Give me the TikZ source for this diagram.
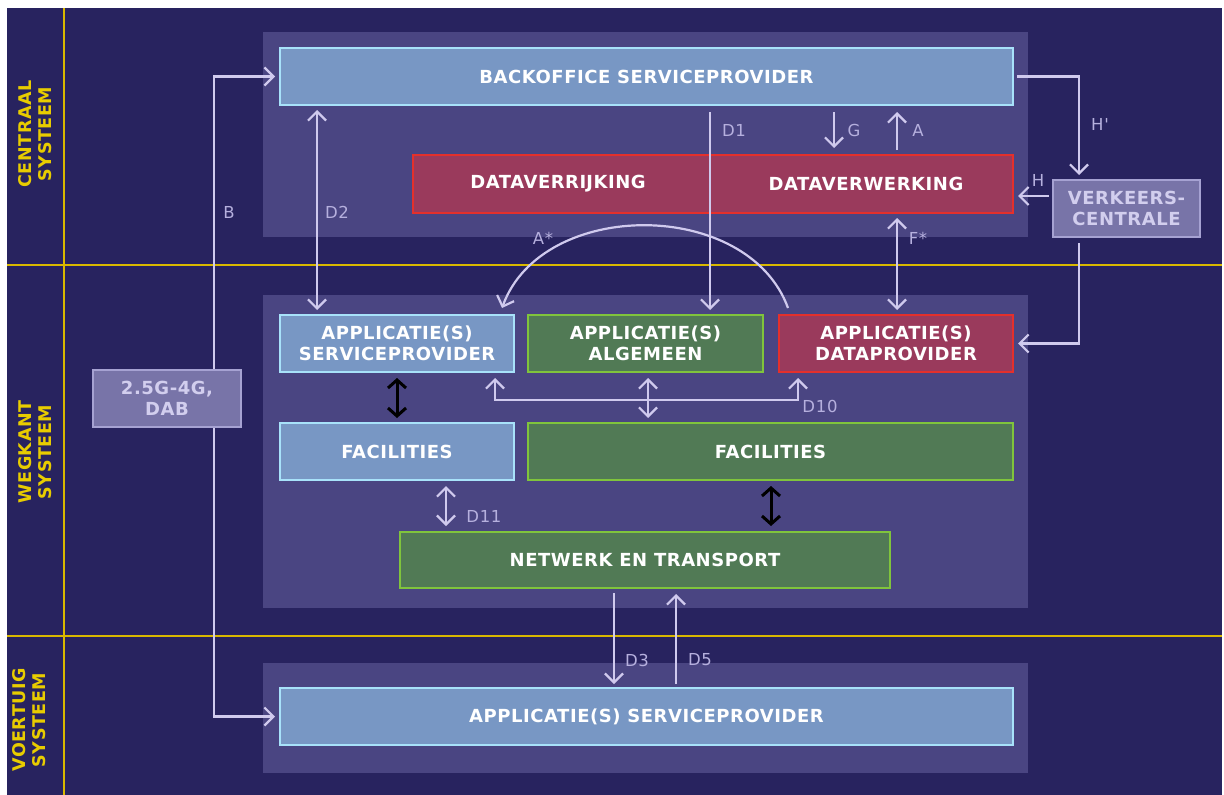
\documentclass[tikz,border=0pt]{standalone}
\usepackage{fontspec}
\setmainfont{DejaVu Sans}
\newfontfamily\boxfont{DejaVu Sans}[LetterSpace=3]
\newfontfamily\lblfont{DejaVu Sans}[LetterSpace=4]
\usetikzlibrary{arrows.meta}
\definecolor{bg}{HTML}{28235F}
\definecolor{panelc}{HTML}{4A4582}
\definecolor{yel}{HTML}{D9B800}
\definecolor{bfill}{HTML}{7897C4}
\definecolor{bline}{HTML}{A8E2FA}
\definecolor{rfill}{HTML}{9A3A5C}
\definecolor{rline}{HTML}{E4302C}
\definecolor{gfill}{HTML}{517A55}
\definecolor{gline}{HTML}{80C43C}
\definecolor{grfill}{HTML}{7874A8}
\definecolor{grline}{HTML}{A6A2D2}
\definecolor{grtext}{HTML}{D2CEEE}
\definecolor{lavline}{HTML}{D0CAEE}
\definecolor{lbltext}{HTML}{B6B0DE}
\definecolor{sidetext}{HTML}{E8CC00}
\begin{document}
\begin{tikzpicture}[x=1pt,y=-1pt,
  >={Straight Barb[length=9pt,width=18pt]},
  box/.style={rectangle, inner sep=0pt, outer sep=0pt, line width=1.8pt, align=center,
    text=white, font=\boxfont\bfseries\fontsize{18}{21}\selectfont},
  bluebox/.style={box, fill=bfill, draw=bline},
  redbox/.style={box, fill=rfill, draw=rline},
  greenbox/.style={box, fill=gfill, draw=gline},
  greybox/.style={box, fill=grfill, draw=grline, text=grtext},
  boxtext/.style={inner sep=0pt, text=white, font=\boxfont\bfseries\fontsize{18}{21}\selectfont},
  panel/.style={fill=panelc},
  lav/.style={draw=lavline, line width=2.2pt},
  blk/.style={draw=black, line width=3pt, {Straight Barb[length=8pt,width=18pt]}-{Straight Barb[length=8pt,width=18pt]}},
  lbl/.style={inner sep=0pt, text=lbltext, font=\lblfont\fontsize{16.5}{16.5}\selectfont},
  side/.style={inner sep=0pt, rotate=90, align=center, text=sidetext,
    font=\boxfont\bfseries\fontsize{17.5}{20}\selectfont},
  yline/.style={draw=yel, line width=1.3pt}]
\useasboundingbox (0,0) rectangle (1224,795);
\fill[white] (0,0) rectangle (1224,795);
\fill[bg] (7,8) rectangle (1222,795);
% section lines
\draw[yline] (64,8) -- (64,795);
\draw[yline] (7,265) -- (1222,265);
\draw[yline] (7,636) -- (1222,636);
% side labels
\node[side] (sCentraal) at (35,134) {CENTRAAL\\SYSTEEM};
\node[side] (sWegkant) at (35,452) {WEGKANT\\SYSTEEM};
\node[side] (sVoertuig) at (29,720) {VOERTUIG\\SYSTEEM};
% panels
\fill[panel] (263,32) rectangle (1028,237);
\fill[panel] (263,295) rectangle (1028,608);
\fill[panel] (263,663) rectangle (1028,773);
% boxes
\node[bluebox, minimum width=733pt, minimum height=57pt] (bo) at (646.5,76.5) {BACKOFFICE SERVICEPROVIDER};
\node[redbox, minimum width=600pt, minimum height=58pt] (red) at (713,184) {};
\node[boxtext] (dvr) at (558,184) {DATAVERRĲKING};
\node[boxtext] (dvw) at (866,184) {DATAVERWERKING};
\node[greybox, minimum width=147pt, minimum height=57pt] (vc) at (1126.5,208.5) {VERKEERS-\\CENTRALE};
\node[bluebox, minimum width=234pt, minimum height=57pt] (appsp) at (397,343.5) {APPLICATIE(S)\\SERVICEPROVIDER};
\node[greenbox, minimum width=235pt, minimum height=57pt] (appalg) at (645.5,343.5) {APPLICATIE(S)\\ALGEMEEN};
\node[redbox, minimum width=234pt, minimum height=57pt] (appdp) at (896,343.5) {APPLICATIE(S)\\DATAPROVIDER};
\node[bluebox, minimum width=234pt, minimum height=57pt] (facb) at (397,451.5) {FACILITIES};
\node[greenbox, minimum width=485pt, minimum height=57pt] (facg) at (770.5,451.5) {FACILITIES};
\node[greenbox, minimum width=490pt, minimum height=56pt] (net) at (645,560) {NETWERK EN TRANSPORT};
\node[bluebox, minimum width=733pt, minimum height=57pt] (spb) at (646.5,716.5) {APPLICATIE(S) SERVICEPROVIDER};
% connectors
\draw[lav,<->] ([xshift=-5pt]bo.west) -- ++(-61,0) |- ([xshift=-5pt]spb.west);
\draw[lav,<->] ([xshift=37pt,yshift=-5pt]bo.south west) -- ([xshift=37pt,yshift=5pt]appsp.north west);
\draw[lav,->] ([xshift=430pt,yshift=-7pt]bo.south west) -- ([xshift=182pt,yshift=5pt]appalg.north west);
\draw[lav,->] ([xshift=554pt,yshift=-7pt]bo.south west) -- ([xshift=421pt,yshift=7pt]red.north west);
\draw[lav,->] ([xshift=484pt,yshift=5pt]red.north west) -- ([xshift=617pt,yshift=-7pt]bo.south west);
\draw[lav,->] ([xshift=4pt]bo.east) -| ([xshift=26pt,yshift=5pt]vc.north west);
\draw[lav,->] ([xshift=-4pt,yshift=-16pt]vc.north west) -- ([xshift=5pt,yshift=-41pt]red.north east);
\draw[lav,->] ([xshift=26pt,yshift=-6pt]vc.south west) |- ([xshift=5pt]appdp.east);
\draw[lav,<->] ([xshift=484pt,yshift=-5pt]red.south west) -- ([xshift=118pt,yshift=5pt]appdp.north west);
\draw[lav,->] ([xshift=9pt,yshift=7pt]appdp.north west) .. controls +(-40,-110) and +(40,-110) .. ([xshift=-12pt,yshift=7pt]appsp.north east);
\draw[lav,<->] ([xshift=-19pt,yshift=-6pt]appsp.south east) |- ([xshift=19pt,yshift=-28pt]appdp.south west) -- ([xshift=19pt,yshift=-6pt]appdp.south west);
\draw[lav,<->] ([xshift=120pt,yshift=-6pt]appalg.south west) -- ([xshift=120pt,yshift=5pt]facg.north west);
\draw[blk] ([xshift=117pt,yshift=-6pt]appsp.south west) -- ([xshift=117pt,yshift=5pt]facb.north west);
\draw[lav,<->] ([xshift=166pt,yshift=-6pt]facb.south west) -- ([xshift=46pt,yshift=6pt]net.north west);
\draw[blk] ([xshift=243pt,yshift=-6pt]facg.south west) -- ([xshift=371pt,yshift=6pt]net.north west);
\draw[lav,->] ([xshift=214pt,yshift=-5pt]net.south west) -- ([xshift=334pt,yshift=4pt]spb.north west);
\draw[lav,->] ([xshift=396pt,yshift=4pt]spb.north west) -- ([xshift=276pt,yshift=-6pt]net.south west);
% box over line B
\node[greybox, minimum width=148pt, minimum height=57pt] (dab) at (167,398.5) {2.5G-4G,\\DAB};
% labels
\node[lbl] (lB) at (229,212) {B};
\node[lbl] (lD2) at (337,212) {D2};
\node[lbl] (lD1) at (734,130) {D1};
\node[lbl] (lG) at (854,130) {G};
\node[lbl] (lA) at (918,130) {A};
\node[lbl] (lHp) at (1100,124) {H'};
\node[lbl] (lH) at (1038,180) {H};
\node[lbl] (lFs) at (918,238) {F*};
\node[lbl] (lAs) at (543,238) {A*};
\node[lbl] (lD10) at (820,406) {D10};
\node[lbl] (lD11) at (484,516) {D11};
\node[lbl] (lD3) at (637,660) {D3};
\node[lbl] (lD5) at (700,660) {D5};
\end{tikzpicture}
\end{document}
